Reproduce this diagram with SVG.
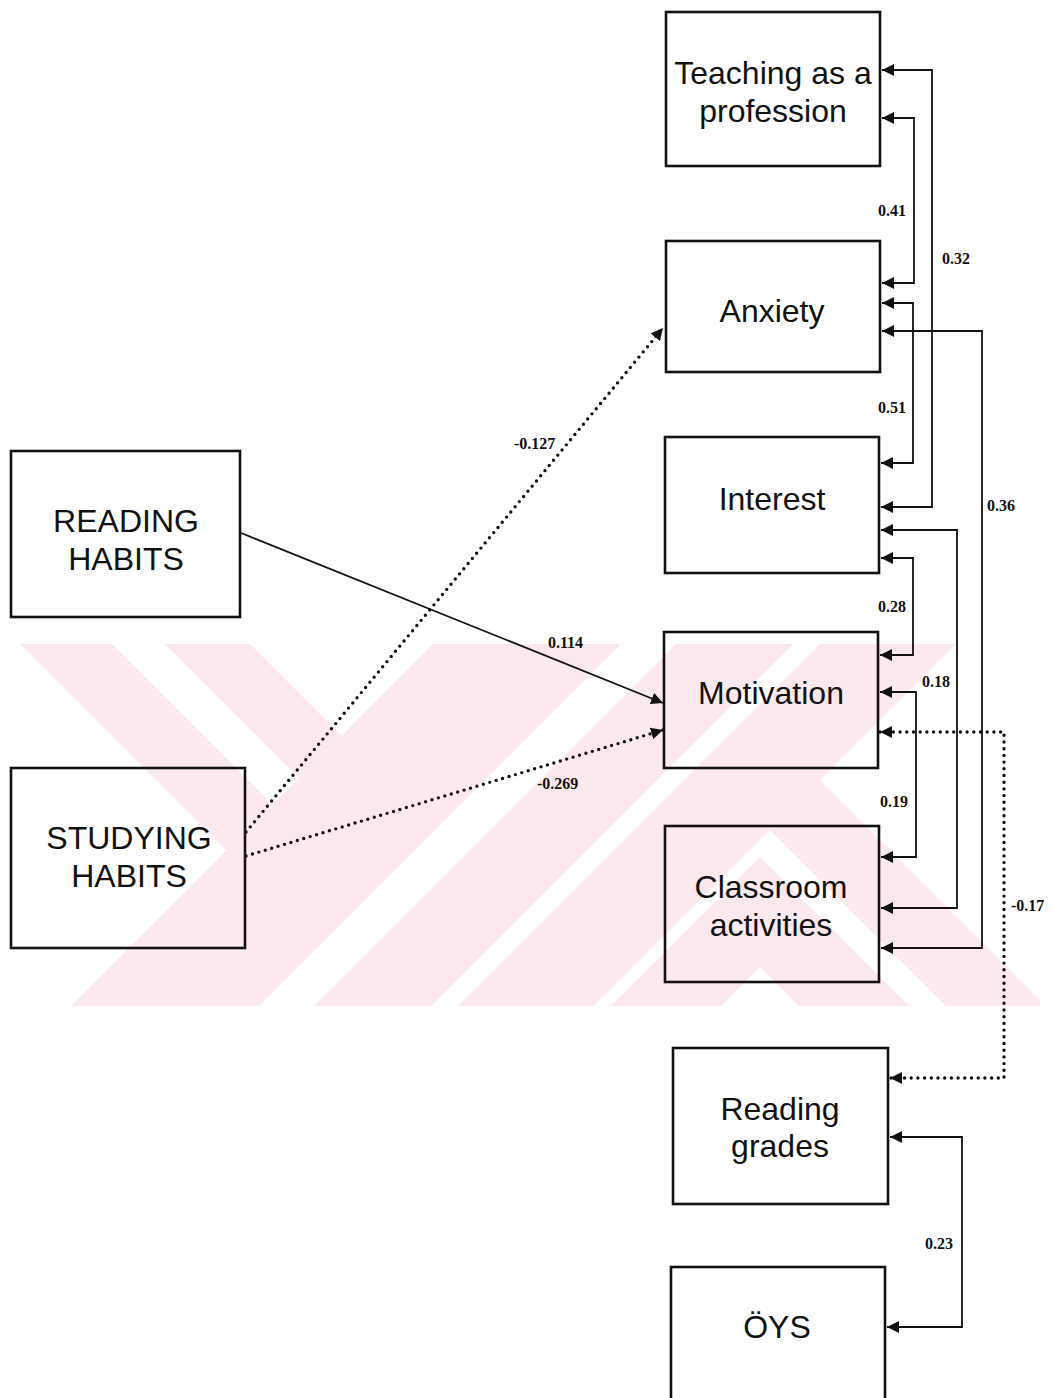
<svg xmlns="http://www.w3.org/2000/svg" width="1053" height="1398" viewBox="0 0 1053 1398">
<style>
.box{fill:none;stroke:#111;stroke-width:2.6}
.lbl{font-family:"Liberation Sans",Arial,sans-serif;font-size:32px;fill:#111;text-anchor:middle}
.num{font-family:"Liberation Serif","Times New Roman",serif;font-size:16px;font-weight:bold;fill:#111}
.ln{fill:none;stroke:#111;stroke-width:1.8}
.dot{fill:none;stroke:#111;stroke-width:3.4;stroke-linecap:round;stroke-dasharray:0 6.7}
.wm{fill:#fce9ed}
</style>
<defs>
<marker id="ah" viewBox="0 0 12 12" refX="12" refY="6" markerWidth="12" markerHeight="12" markerUnits="userSpaceOnUse" orient="auto-start-reverse">
<path d="M0,0 L12,6 L0,12 z" fill="#111"/>
</marker>
<clipPath id="wmclip"><rect x="20" y="644" width="1020" height="362"/></clipPath>
</defs>
<rect width="1053" height="1398" fill="#fff"/>
<g id="watermark" clip-path="url(#wmclip)">
<polygon class="wm" points="-24,600 68,600 366.5,898.5 320.5,944.5"/>
<polygon class="wm" points="121,600 206,600 435.5,829.5 393,872"/>
<polygon class="wm" points="477,600 665,600 215,1050 27,1050"/>
<polygon class="wm" points="720,600 837,600 387,1050 270,1050"/>
<polygon class="wm" points="864,600 1000,600 550,1050 414,1050"/>
<polygon class="wm" points="770,830 820,780 1090,1050 990,1050"/>
<polygon class="wm" points="567,1050 760,857 953,1050 843,1050 760,967 677,1050"/>
</g>
<g id="connectors">
<path class="ln" d="M882,70 H932 V507 H881" marker-start="url(#ah)" marker-end="url(#ah)"/>
<path class="ln" d="M882,118 H914 V283 H882" marker-start="url(#ah)" marker-end="url(#ah)"/>
<path class="ln" d="M882,303 H913 V463 H881" marker-start="url(#ah)" marker-end="url(#ah)"/>
<path class="ln" d="M882,331 H982 V948 H881" marker-start="url(#ah)" marker-end="url(#ah)"/>
<path class="ln" d="M881,530 H957 V908 H881" marker-start="url(#ah)" marker-end="url(#ah)"/>
<path class="ln" d="M881,558 H913 V655 H880" marker-start="url(#ah)" marker-end="url(#ah)"/>
<path class="ln" d="M880,692 H916 V857 H881" marker-start="url(#ah)" marker-end="url(#ah)"/>
<path class="dot" d="M880,732 H1004 V1078 H890" marker-start="url(#ah)" marker-end="url(#ah)"/>
<path class="ln" d="M890,1137 H962 V1327 H887" marker-start="url(#ah)" marker-end="url(#ah)"/>
<path class="ln" d="M241,533 L663,703" marker-end="url(#ah)"/>
<path class="dot" d="M246,832 L663,328" marker-end="url(#ah)"/>
<path class="dot" d="M246,856 L663,730" marker-end="url(#ah)"/>
<text class="num" x="878" y="216">0.41</text>
<text class="num" x="942" y="264">0.32</text>
<text class="num" x="878" y="413">0.51</text>
<text class="num" x="987" y="511">0.36</text>
<text class="num" x="878" y="612">0.28</text>
<text class="num" x="922" y="687">0.18</text>
<text class="num" x="880" y="807">0.19</text>
<text class="num" x="1011" y="911">-0.17</text>
<text class="num" x="925" y="1249">0.23</text>
<text class="num" x="548" y="648">0.114</text>
<text class="num" x="537" y="789">-0.269</text>
<text class="num" x="514" y="449">-0.127</text>
</g>
<g id="teaching"><rect class="box" x="666" y="12" width="214" height="154"/><text class="lbl" x="773" y="84">Teaching as a</text><text class="lbl" x="773" y="122">profession</text></g>
<g id="anxiety"><rect class="box" x="666" y="241" width="214" height="131"/><text class="lbl" x="772" y="322">Anxiety</text></g>
<g id="interest"><rect class="box" x="665" y="437" width="214" height="136"/><text class="lbl" x="772" y="510">Interest</text></g>
<g id="motivation"><rect class="box" x="664" y="632" width="214" height="136"/><text class="lbl" x="771" y="704">Motivation</text></g>
<g id="classroom"><rect class="box" x="665" y="826" width="214" height="156"/><text class="lbl" x="771" y="898">Classroom</text><text class="lbl" x="771" y="936">activities</text></g>
<g id="readinggrades"><rect class="box" x="673" y="1048" width="215" height="156"/><text class="lbl" x="780" y="1120">Reading</text><text class="lbl" x="780" y="1157">grades</text></g>
<g id="oys"><rect class="box" x="671" y="1267" width="214" height="145"/><text class="lbl" x="777" y="1338">ÖYS</text></g>
<g id="readinghabits"><rect class="box" x="11" y="451" width="229" height="166"/><text class="lbl" x="126" y="532">READING</text><text class="lbl" x="126" y="570">HABITS</text></g>
<g id="studyinghabits"><rect class="box" x="11" y="768" width="234" height="180"/><text class="lbl" x="129" y="849">STUDYING</text><text class="lbl" x="129" y="887">HABITS</text></g>
</svg>
